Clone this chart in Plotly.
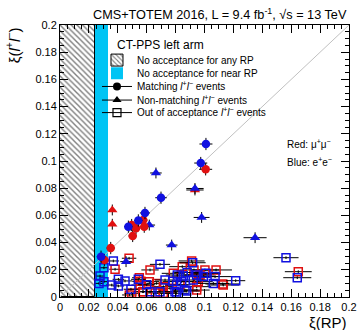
import plotly.graph_objects as go

# ---------------- data ----------------
hatch_limit = 0.0245   # no acceptance for any RP: xi < hatch_limit
near_limit = 0.033     # no acceptance for near RP: hatch_limit < xi < near_limit
axis_max = 0.2

# Matching events (circles)
match_mu_x = [0.1008, 0.0576, 0.0583, 0.0496, 0.0526, 0.0503, 0.0351, 0.0307]
match_mu_y = [0.0939, 0.0566, 0.0517, 0.0529, 0.0505, 0.0449, 0.0360, 0.0272]
match_mu_xe = [0.0045, 0.003, 0.003, 0.003, 0.003, 0.003, 0.003, 0.003]
match_ee_x = [0.1010, 0.0974, 0.0699, 0.0588, 0.0542, 0.0473, 0.0284]
match_ee_y = [0.1125, 0.0985, 0.0730, 0.0618, 0.0563, 0.0517, 0.0296]
match_ee_xe = [0.0045, 0.0045, 0.004, 0.0035, 0.003, 0.003, 0.003]

# Non-matching events (triangles)
nonm_mu_x = [0.0934, 0.0362, 0.0362]
nonm_mu_y = [0.0787, 0.0640, 0.0535]
nonm_mu_xe = [0.006, 0.002, 0.002]
nonm_ee_x = [0.0664, 0.0934, 0.0980, 0.1350, 0.0773, 0.0618, 0.0457]
nonm_ee_y = [0.0912, 0.0798, 0.0585, 0.0436, 0.0382, 0.0529, 0.0260]
nonm_ee_xe = [0.004, 0.006, 0.0055, 0.008, 0.004, 0.004, 0.004]

# Out of acceptance events (open squares)
out_mu_x = [0.0478, 0.0381, 0.0480, 0.0623, 0.0549, 0.0554, 0.0572, 0.0618, 0.0669,
            0.0715, 0.0784, 0.0761, 0.0846, 0.0911, 0.0927, 0.0957, 0.1003, 0.0946,
            0.1080, 0.1126, 0.1649, 0.0496, 0.0577, 0.0715, 0.0946, 0.1130, 0.0969,
            0.0830, 0.0560, 0.0660]
out_mu_y = [0.0285, 0.0204, 0.0015, 0.0199, 0.0142, 0.0088, 0.0039, 0.0113, 0.0100,
            0.0076, 0.0174, 0.0064, 0.0223, 0.0265, 0.0199, 0.0113, 0.0199, 0.0076,
            0.0199, 0.0096, 0.0186, 0.0027, 0.0039, 0.0027, 0.0051, 0.0088, 0.0162,
            0.0090, 0.0115, 0.0030]
out_mu_xe = [0.005, 0.004, 0.005, 0.006, 0.005, 0.006, 0.006, 0.007, 0.007,
             0.007, 0.008, 0.008, 0.009, 0.009, 0.010, 0.010, 0.010, 0.010,
             0.011, 0.012, 0.0093, 0.005, 0.006, 0.007, 0.009, 0.011, 0.010,
             0.008, 0.006, 0.006]
out_ee_x = [0.0369, 0.0277, 0.0304, 0.0270, 0.0304, 0.0358, 0.0404, 0.0450, 0.0404,
            0.0491, 0.0692, 0.0542, 0.0623, 0.0727, 0.0692, 0.0812, 0.0807, 0.0842,
            0.0796, 0.0865, 0.0918, 0.0853, 0.0946, 0.0992, 0.0922, 0.1010, 0.1073,
            0.1061, 0.1216, 0.0877, 0.1564, 0.1642, 0.0807, 0.0600, 0.0880, 0.0780]
out_ee_y = [0.0265, 0.0154, 0.0215, 0.0100, 0.0113, 0.0088, 0.0130, 0.0118, 0.0081,
            0.0057, 0.0240, 0.0130, 0.0039, 0.0125, 0.0039, 0.0162, 0.0088, 0.0113,
            0.0039, 0.0051, 0.0252, 0.0154, 0.0162, 0.0150, 0.0125, 0.0174, 0.0150,
            0.0100, 0.0120, 0.0044, 0.0289, 0.0142, 0.0027, 0.0090, 0.0180, 0.0115]
out_ee_xe = [0.004, 0.003, 0.003, 0.003, 0.003, 0.004, 0.004, 0.005, 0.004,
             0.005, 0.007, 0.005, 0.006, 0.007, 0.007, 0.008, 0.008, 0.008,
             0.008, 0.009, 0.009, 0.008, 0.009, 0.010, 0.009, 0.010, 0.011,
             0.011, 0.0066, 0.009, 0.0087, 0.0097, 0.008, 0.006, 0.009, 0.007]

match_ye = 0.0045
nonm_ye = 0.004
out_ye = 0.001

# ---------------- styles ----------------
RED = "#e01010"
BLUE = "#1010e0"
CYAN = "#00c4f4"
FONT = "Liberation Sans, Arial, Helvetica, sans-serif"

fig = go.Figure()

# Hatched region: no acceptance for any RP
fig.add_trace(go.Bar(
    x=[hatch_limit / 2], y=[axis_max], width=[hatch_limit], base=[0],
    marker=dict(color="rgba(255,255,255,0)",
                line=dict(color="black", width=1),
                pattern=dict(shape="\\", fgcolor="black", size=4, solidity=0.35)),
    name="No acceptance for any RP", showlegend=True, legend="legend", hoverinfo="skip"))

# Cyan band: no acceptance for near RP
fig.add_trace(go.Bar(
    x=[(hatch_limit + near_limit) / 2], y=[axis_max], width=[near_limit - hatch_limit], base=[0],
    marker=dict(color=CYAN, line=dict(width=0)),
    name="No acceptance for near RP", showlegend=True, legend="legend2", hoverinfo="skip"))

# Diagonal y = x
fig.add_trace(go.Scatter(x=[0, axis_max], y=[0, axis_max], mode="lines",
                         line=dict(color="#c0c0c0", width=1), showlegend=False, hoverinfo="skip"))

lep = "<i>l</i><sup>+</sup><i>l</i><sup>−</sup>"

# Legend-only entries (black)
fig.add_trace(go.Scatter(x=[None], y=[None], mode="lines+markers",
                         marker=dict(symbol="circle", size=8, color="black"),
                         line=dict(color="black", width=1),
                         name=f"Matching {lep} events", legend="legend3"))
fig.add_trace(go.Scatter(x=[None], y=[None], mode="lines+markers",
                         marker=dict(symbol="triangle-up", size=8, color="black"),
                         line=dict(color="black", width=1),
                         name=f"Non-matching {lep} events", legend="legend4"))
fig.add_trace(go.Scatter(x=[None], y=[None], mode="lines+markers",
                         marker=dict(symbol="square-open", size=8, color="black", line=dict(width=1.2)),
                         line=dict(color="black", width=1),
                         name=f"Out of acceptance {lep} events", legend="legend5"))

def err(arr):
    return dict(type="data", array=arr, color="black", thickness=1, width=0)

def add_points(x, y, xe, ye, symbol, color, size, lw=0):
    fig.add_trace(go.Scatter(
        x=x, y=y, mode="markers",
        marker=dict(symbol=symbol, size=size, color=color, line=dict(color=color, width=lw)),
        error_x=err(xe), error_y=err([ye] * len(x)),
        showlegend=False))

add_points(out_mu_x, out_mu_y, out_mu_xe, out_ye, "square-open", RED, 8, 1.5)
add_points(out_ee_x, out_ee_y, out_ee_xe, out_ye, "square-open", BLUE, 8, 1.5)
add_points(nonm_mu_x, nonm_mu_y, nonm_mu_xe, nonm_ye, "triangle-up", RED, 9)
add_points(nonm_ee_x, nonm_ee_y, nonm_ee_xe, nonm_ye, "triangle-up", BLUE, 9)
add_points(match_mu_x, match_mu_y, match_mu_xe, match_ye, "circle", RED, 8.5)
add_points(match_ee_x, match_ee_y, match_ee_xe, match_ye, "circle", BLUE, 8.5)

axis_common = dict(
    range=[0, axis_max], dtick=0.02, tick0=0,
    ticks="inside", ticklen=8, tickwidth=1, tickcolor="black",
    minor=dict(ticks="inside", ticklen=4, dtick=0.005, tickcolor="black", tickwidth=1),
    showline=True, linecolor="black", linewidth=1, mirror="ticks",
    showgrid=False, zeroline=False, automargin=False,
    tickfont=dict(family=FONT, size=11, color="black"),
)

def leg(yc):
    return dict(x=0.128, y=yc, xanchor="left", yanchor="middle",
                bgcolor="rgba(255,255,255,0)", borderwidth=0,
                font=dict(family=FONT, size=10, color="black"),
                itemwidth=30)

fig.update_layout(
    width=358, height=330, autosize=False,
    margin=dict(l=60, r=9, t=25, b=33, autoexpand=False),
    paper_bgcolor="white", plot_bgcolor="white",
    barmode="overlay", bargap=0,
    xaxis=axis_common, yaxis=axis_common,
    font=dict(family=FONT, color="black"),
    legend=leg(0.871), legend2=leg(0.823), legend3=leg(0.774),
    legend4=leg(0.724), legend5=leg(0.678),
    showlegend=True,
    annotations=[
        dict(text="CMS+TOTEM 2016, L = 9.4 fb<sup>-1</sup>, √s = 13 TeV",
             xref="paper", yref="paper", x=1, y=1.004, xanchor="right", yanchor="bottom",
             showarrow=False, font=dict(size=12.7, family=FONT)),
        dict(text="CT-PPS left arm", xref="paper", yref="paper",
             x=0.19, y=0.926, xanchor="left", yanchor="middle",
             showarrow=False, font=dict(size=12, family=FONT)),
        dict(text="Red: μ<sup>+</sup>μ<sup>−</sup>", xref="paper", yref="paper",
             x=0.78, y=0.563, xanchor="left", yanchor="middle",
             showarrow=False, font=dict(size=10, family=FONT)),
        dict(text="Blue: e<sup>+</sup>e<sup>−</sup>", xref="paper", yref="paper",
             x=0.78, y=0.496, xanchor="left", yanchor="middle",
             showarrow=False, font=dict(size=10, family=FONT)),
        dict(text="ξ(RP)", xref="paper", yref="paper",
             x=1, y=-0.092, xanchor="right", yanchor="middle",
             showarrow=False, font=dict(size=15, family=FONT)),
        dict(text=f"ξ({lep})", xref="paper", yref="paper",
             x=-0.205, y=1.0, xanchor="left", yanchor="top", textangle=-90,
             showarrow=False, font=dict(size=15, family=FONT)),
    ],
)

fig.write_html("out.html", config={"displayModeBar": False},
               post_script="document.body.style.margin='0';")
